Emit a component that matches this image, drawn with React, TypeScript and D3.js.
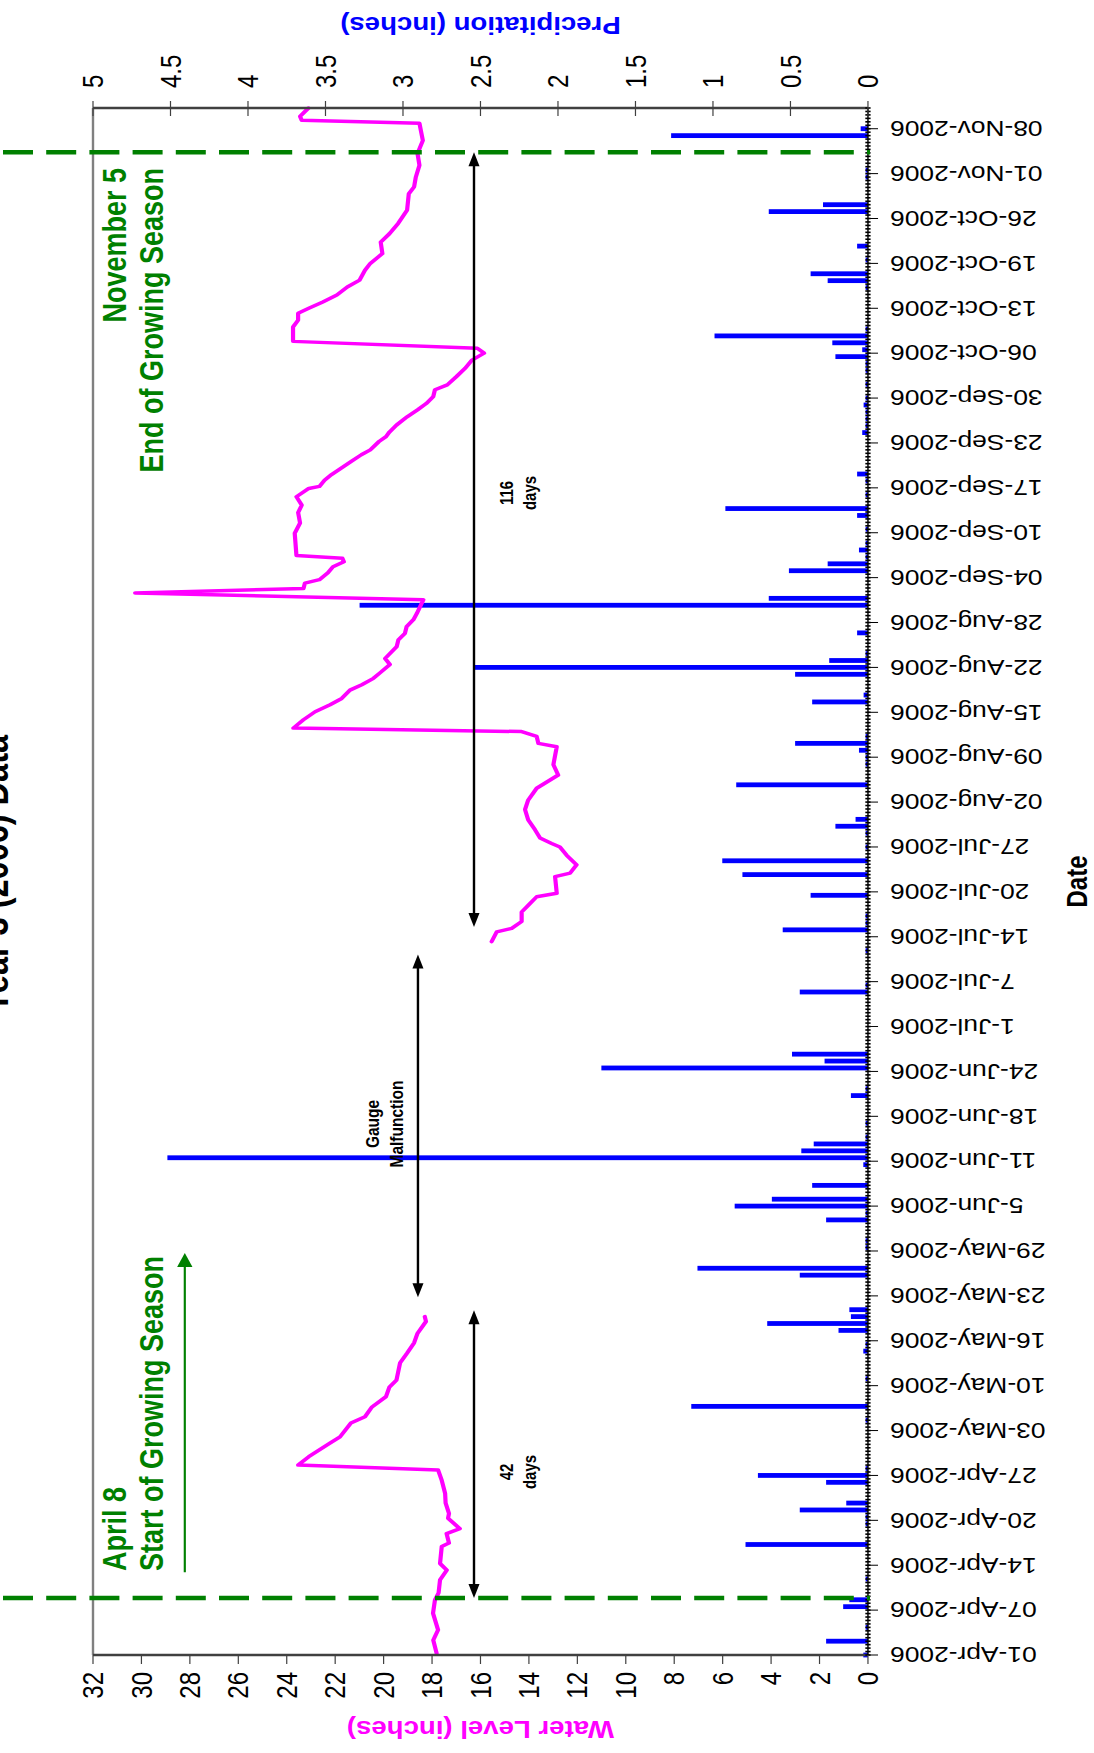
import React from "react";
import * as d3 from "d3";

// ---------------- data ----------------
const waterSeg1Times = ["04-01T06","04-03T04","04-04T15","04-07T01","04-08T23","04-10T00","04-11T21","04-13T07","04-14T06","04-16T17","04-17T05","04-18T14","04-19T07","04-20T19","04-21T12","04-23T00","04-24T10","04-26T07","04-27T19","04-28T12","04-29T17","05-01T17","05-02T14","05-04T14","05-05T12","05-06T22","05-08T10","05-09T19","05-10T19","05-13T07","05-14T17","05-16T05","05-17T14","05-19T07","05-20T00"];
const waterSeg1Levels = [17.81,17.95,17.75,17.96,17.88,17.73,17.67,17.39,17.67,17.6,17.3,17.4,16.85,17.34,17.3,17.44,17.46,17.6,17.75,23.53,23.09,22.2,21.8,21.35,20.77,20.48,19.9,19.76,19.47,19.32,19.03,18.74,18.6,18.25,18.3];

const waterSeg2Times = ["07-13T07","07-14T17","07-15T05","07-16T05","07-17T14","07-18T14","07-19T19","07-20T07","07-22T17","07-23T05","07-24T10","07-25T19","07-27T00","07-27T12","07-28T07","07-29T12","07-30T22","08-01T10","08-02T19","08-04T12","08-06T10","08-07T22","08-10T12","08-11T00","08-12T00","08-12T17","08-13T05","08-14T10","08-15T14","08-16T14","08-17T12","08-18T17","08-19T12","08-20T10","08-21T05","08-22T10","08-23T07","08-25T00","08-26T00","08-26T22","08-27T22","08-28T22","08-29T19","08-31T19","09-01T19","09-02T10","09-03T05","09-03T17","09-04T17","09-05T14","09-06T07","09-06T19","09-07T05","09-10T10","09-11T22","09-13T10","09-14T12","09-15T17","09-16T22","09-17T05","09-18T02","09-18T22","09-19T19","09-20T19","09-21T19","09-22T12","09-23T17","09-24T10","09-25T02","09-26T02","09-27T07","09-28T07","09-29T05","09-30T05","10-01T05","10-01T22","10-03T02","10-04T07","10-05T12","10-06T12","10-07T05","10-08T05","10-10T07","10-11T07","10-12T07","10-13T00","10-13T22","10-14T22","10-16T02","10-17T02","10-18T12","10-19T12","10-20T22","10-22T14","10-23T19","10-25T07","10-27T05","10-29T14","10-30T14","11-01T00","11-02T17","11-04T10","11-06T07","11-07T17","11-08T19","11-09T05","11-09T19","11-11T00"];
const waterSeg2Levels = [15.54,15.33,14.71,14.3,14.3,14.02,13.68,12.85,12.92,12.3,12.03,12.44,12.72,13.06,13.54,13.75,14.03,14.16,14.03,13.68,12.79,12.99,12.85,13.61,13.68,14.3,23.73,23.31,22.83,22.21,21.73,21.39,20.9,20.42,20.15,19.74,19.94,19.46,19.39,19.12,19.05,18.77,18.63,18.36,30.26,23.31,23.25,22.65,22.3,22.09,21.64,21.7,23.6,23.67,23.45,23.53,23.38,23.6,23.09,22.65,22.44,22.15,21.78,21.35,20.92,20.55,20.19,19.9,19.76,19.47,19.03,18.6,18.24,17.95,17.88,17.37,17.0,16.64,16.35,15.85,16.13,23.74,23.74,23.53,23.53,23.09,22.51,21.93,21.5,20.99,20.77,20.55,20.05,20.12,19.76,19.4,19.03,18.96,18.74,18.67,18.52,18.6,18.38,18.46,18.52,23.38,23.45,23.1];

const precipDates = ["04-01","04-03","04-05","04-08","04-09","04-12","04-17","04-20","04-21","04-22","04-23","04-26","04-27","04-28","05-05","05-07","05-11","05-15","05-16","05-18","05-19","05-20","05-21","05-26","05-27","05-30","05-31","06-03","06-04","06-05","06-06","06-08","06-11","06-12","06-13","06-14","06-15","06-17","06-21","06-22","06-25","06-26","06-27","07-06","07-07","07-12","07-15","07-16","07-17","07-20","07-23","07-25","07-27","07-29","07-30","07-31","08-05","08-08","08-09","08-10","08-11","08-12","08-17","08-18","08-21","08-22","08-23","08-24","08-27","08-31","09-01","09-05","09-06","09-07","09-08","09-09","09-11","09-13","09-14","09-16","09-18","09-19","09-25","09-26","09-27","09-28","09-29","09-30","10-02","10-04","10-05","10-06","10-07","10-08","10-09","10-10","10-16","10-17","10-18","10-20","10-22","10-27","10-28","11-01","11-02","11-07","11-08"];
const precipValues = [0.03,0.27,0.015,0.16,0.12,0.015,0.79,0.015,0.015,0.44,0.14,0.27,0.71,0.015,0.015,1.14,0.015,0.03,0.015,0.19,0.65,0.11,0.12,0.44,1.1,0.015,0.015,0.27,0.015,0.86,0.62,0.36,0.03,4.52,0.43,0.35,0.015,0.015,0.11,0.015,1.72,0.28,0.49,0.44,0.015,0.015,0.55,0.015,0.015,0.37,0.81,0.94,0.015,0.015,0.21,0.08,0.85,0.015,0.015,0.058,0.47,0.015,0.36,0.028,0.47,2.54,0.25,0.015,0.07,3.28,0.64,0.51,0.26,0.015,0.058,0.015,0.015,0.07,0.92,0.015,0.015,0.07,0.037,0.015,0.015,0.015,0.028,0.015,0.015,0.015,0.015,0.21,0.037,0.23,0.99,0.015,0.015,0.26,0.37,0.015,0.07,0.64,0.29,0.015,0.015,1.27,0.047];

const dateTickLabels = ["01-Apr-2006","07-Apr-2006","14-Apr-2006","20-Apr-2006","27-Apr-2006","03-May-2006","10-May-2006","16-May-2006","23-May-2006","29-May-2006","5-Jun-2006","11-Jun-2006","18-Jun-2006","24-Jun-2006","1-Jul-2006","7-Jul-2006","14-Jul-2006","20-Jul-2006","27-Jul-2006","02-Aug-2006","09-Aug-2006","15-Aug-2006","22-Aug-2006","28-Aug-2006","04-Sep-2006","10-Sep-2006","17-Sep-2006","23-Sep-2006","30-Sep-2006","06-Oct-2006","13-Oct-2006","19-Oct-2006","26-Oct-2006","01-Nov-2006","08-Nov-2006"];
const waterTickValues = [0,2,4,6,8,10,12,14,16,18,20,22,24,26,28,30,32];
const precipTickValues = [0,0.5,1,1.5,2,2.5,3,3.5,4,4.5,5];

// annotation anchors (dates)
const seasonStartLine = "04-09T06";
const seasonEndLine = "11-04T14";
const greenArrowFrom = "04-13T00";
const greenArrowTo = "05-29T05";
const arrow42From = "04-09T06";
const arrow42To = "05-20T22";
const gaugeFrom = "05-22T19";
const gaugeTo = "07-11T10";
const arrow116From = "07-15T10";
const arrow116To = "11-04T14";

// ---------------- layout ----------------
const W = 1094;
const H = 1753;
const SX = 1.2;
const FONT = "'Liberation Sans', Arial, sans-serif";
const parseT = d3.utcParse("%Y-%m-%dT%H");
const T = (s: string) => parseT("2006-" + (s.includes("T") ? s : s + "T00")) as Date;

const X0 = 98, X1 = 1645, YB = 723.3, YT = 77.5;

export default function App() {
  const start = T("04-01T00");
  const x = d3.scaleUtc().domain([start, T("11-11T00")]).range([X0, X1]);
  const yW = d3.scaleLinear().domain([0, 32]).range([YB, YT]);
  const yP = d3.scaleLinear().domain([0, 5]).range([YB, YT]);

  const line = d3
    .line<[Date, number]>()
    .x((d) => x(d[0]))
    .y((d) => yW(d[1]));
  const seg1 = waterSeg1Times.map((t, i) => [T(t), waterSeg1Levels[i]] as [Date, number]);
  const seg2 = waterSeg2Times.map((t, i) => [T(t), waterSeg2Levels[i]] as [Date, number]);

  const majorTicks = dateTickLabels.map((_, k) => d3.utcHour.offset(start, k * 156));
  const minorTicks = d3.range(0, 449).map((k) => d3.utcHour.offset(start, k * 12));

  const barW = 4.8;

  const dblArrow = (xa: number, xb: number, y: number, key: string) => {
    const L = 14, hw = 4.6;
    return (
      <g key={key}>
        <line x1={xa + L - 1} x2={xb - L + 1} y1={y} y2={y} stroke="#000" strokeWidth={2} />
        <polygon points={`${xa},${y} ${xa + L},${y - hw} ${xa + L},${y + hw}`} fill="#000" />
        <polygon points={`${xb},${y} ${xb - L},${y - hw} ${xb - L},${y + hw}`} fill="#000" />
      </g>
    );
  };

  const green = "#008000";

  return (
    <svg
      width={W}
      height={H}
      style={{ position: "absolute", left: 0, top: 0, background: "#fff" }}
    >
      <rect x={0} y={0} width={W} height={H} fill="#fff" />
      <g transform={`matrix(0,-1,${SX},0,0,${H})`} fontFamily={FONT}>
        {/* title (partly outside the picture, as in the reference) */}
        <text x={879} y={6.5} textAnchor="middle" fontSize={32.5} fontWeight="bold" fill="#000">
          Year 3 (2006) Data
        </text>

        {/* precipitation bars */}
        {precipDates.map((d, i) => {
          const t = T(d);
          const v = precipValues[i];
          return (
            <rect
              key={"p" + i}
              x={x(t) - barW / 2}
              width={barW}
              y={yP(v)}
              height={yP(0) - yP(v)}
              fill="#0000FF"
            />
          );
        })}

        {/* water level */}
        {[seg1, seg2].map((s, i) => (
          <path
            key={"w" + i}
            d={line(s) || ""}
            fill="none"
            stroke="#FF00FF"
            strokeWidth={3.5}
            strokeLinejoin="round"
            strokeLinecap="round"
          />
        ))}

        {/* plot borders */}
        <line x1={X0} x2={X1} y1={YT} y2={YT} stroke="#808080" strokeWidth={2} />
        <line x1={X0} x2={X0} y1={YT} y2={YB} stroke="#404040" strokeWidth={2.5} />
        <line x1={X1} x2={X1} y1={YT} y2={YB} stroke="#404040" strokeWidth={2.5} />

        {/* date axis */}
        <line x1={X0} x2={X1} y1={YB} y2={YB} stroke="#000" strokeWidth={1.2} />
        {minorTicks.map((t, i) => (
          <line key={"mn" + i} x1={x(t)} x2={x(t)} y1={YB - 2.2} y2={YB + 2.2} stroke="#000" strokeWidth={1.6} />
        ))}
        {majorTicks.map((t, i) => (
          <line key={"mj" + i} x1={x(t)} x2={x(t)} y1={YB} y2={YB + 8.4} stroke="#000" strokeWidth={1} />
        ))}
        {majorTicks.map((t, i) => (
          <text
            key={"ml" + i}
            transform={`translate(${x(t)},741.7) rotate(-90)`}
            textAnchor="end"
            dy="0.35em"
            fontSize={22}
            fill="#000"
          >
            {dateTickLabels[i]}
          </text>
        ))}
        <text x={(X0 + X1) / 2} y={906} textAnchor="middle" fontSize={24} fontWeight="bold" fill="#000">
          Date
        </text>

        {/* water level axis */}
        {waterTickValues.map((v) => (
          <g key={"wt" + v}>
            <line x1={X0 - 9} x2={X0} y1={yW(v)} y2={yW(v)} stroke="#404040" strokeWidth={1} />
            <text x={81} y={yW(v)} dy="0.35em" textAnchor="end" fontSize={24} fill="#000">
              {v}
            </text>
          </g>
        ))}
        <text
          transform={`translate(32,${(YT + YB) / 2}) rotate(-90)`}
          textAnchor="middle"
          fontSize={23}
          fontWeight="bold"
          fill="#FF00FF"
        >
          Water Level (inches)
        </text>

        {/* precipitation axis */}
        {precipTickValues.map((v) => (
          <g key={"pt" + v}>
            <line x1={X1 - 8} x2={X1 + 7} y1={yP(v)} y2={yP(v)} stroke="#404040" strokeWidth={1} />
            <text x={1665} y={yP(v)} dy="0.35em" textAnchor="start" fontSize={24} fill="#000">
              {String(v)}
            </text>
          </g>
        ))}
        <text
          transform={`translate(1736,${(YT + YB) / 2}) rotate(-90)`}
          textAnchor="middle"
          fontSize={23}
          fontWeight="bold"
          fill="#0000FF"
        >
          Precipitation (inches)
        </text>

        {/* growing season lines */}
        {[seasonStartLine, seasonEndLine].map((s) => (
          <line
            key={"gl" + s}
            x1={x(T(s))}
            x2={x(T(s))}
            y1={2.5}
            y2={725}
            stroke={green}
            strokeWidth={4.5}
            strokeDasharray="25 11"
          />
        ))}

        {/* green arrow */}
        <line x1={x(T(greenArrowFrom))} x2={x(T(greenArrowTo)) - 12} y1={154} y2={154} stroke={green} strokeWidth={1.8} />
        <polygon
          points={`${x(T(greenArrowTo))},154 ${x(T(greenArrowTo)) - 14},147.6 ${x(T(greenArrowTo)) - 14},160.4`}
          fill={green}
        />

        {/* green texts */}
        <text x={182} y={105} fontSize={27} fontWeight="bold" fill={green}>April 8</text>
        <text x={182} y={136} fontSize={27} fontWeight="bold" fill={green}>Start of Growing Season</text>
        <text x={1585} y={105} textAnchor="end" fontSize={27} fontWeight="bold" fill={green}>November 5</text>
        <text x={1585} y={136} textAnchor="end" fontSize={27} fontWeight="bold" fill={green}>End of Growing Season</text>

        {/* black arrows */}
        {dblArrow(x(T(arrow42From)), x(T(arrow42To)), 395, "a42")}
        {dblArrow(x(T(arrow116From)), x(T(arrow116To)), 395, "a116")}
        {dblArrow(x(T(gaugeFrom)), x(T(gaugeTo)), 348.3, "agm")}

        <text x={629} y={316} textAnchor="middle" fontSize={15.5} fontWeight="bold">Gauge</text>
        <text x={629} y={336} textAnchor="middle" fontSize={15.5} fontWeight="bold">Malfunction</text>
        <text x={281} y={427.5} textAnchor="middle" fontSize={15} fontWeight="bold">42</text>
        <text x={281} y={446.5} textAnchor="middle" fontSize={15} fontWeight="bold">days</text>
        <text x={1260} y={427.5} textAnchor="middle" fontSize={15} fontWeight="bold">116</text>
        <text x={1260} y={446.5} textAnchor="middle" fontSize={15} fontWeight="bold">days</text>
      </g>
    </svg>
  );
}
